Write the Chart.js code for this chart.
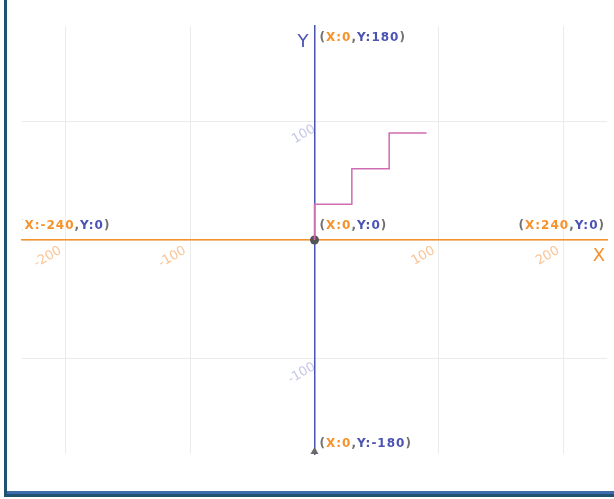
<!DOCTYPE html>
<html>
<head>
<meta charset="utf-8">
<script src="https://cdn.jsdelivr.net/npm/chart.js@4/dist/chart.umd.min.js"></script>
<style>
    html, body { margin: 0; padding: 0; background: #fff; width: 614px; height: 499px; overflow: hidden; }
    #frame {
        position: absolute; left: 4px; top: -10px; width: 700px; height: 504px;
        border-left: 3px solid #1f5273; border-bottom: 3px solid #1f5273;
    }
    #frame:after {
        content: ''; position: absolute; left: 0; right: 0; bottom: 0; height: 3px; background: #3e6cab;
    }
    #wrap { position: absolute; left: 0; top: 0; width: 614px; height: 499px; }
</style>
</head>
<body>
<div id="frame"></div>
<div id="wrap"><canvas id="stageChart"></canvas></div>
<script>
// stage axes (scratch-like coordinate grid)
var xRange = [-235, 235];
var yRange = [-180, 180];
var xTicks = [-200, -100, 0, 100, 200];
var yTicks = [-100, 0, 100];

// the staircase the sprite walked
var stepX = [0, 30, 60, 90];
var stepY = [0, 30, 60, 90];

// origin dot and the little arrow at the bottom of the y axis
var markerX = [0, 0];
var markerY = [0, -180];
var markerStyle = ['circle', 'triangle'];

// corner coordinate labels
var edgeLabelX = ['0', '-240', '240', '0', '0'];
var edgeLabelY = ['180', '0', '0', '0', '-180'];

var ORANGE = '#f7922a';
var BLUE = '#4a52b3';
var GRAY = '#707070';

function toPoints(xs, ys) {
    return xs.map(function (x, i) { return { x: x, y: ys[i] }; });
}

// draws "(X:..,Y:..)" pieces in their colours
function drawCoord(ctx, x, y, xs, ys, alignRight) {
    var parts = [['(', GRAY], ['X:' + xs, ORANGE], [',', GRAY], ['Y:' + ys, BLUE], [')', GRAY]];
    var total = 0;
    parts.forEach(function (p) { total += ctx.measureText(p[0]).width; });
    var cx = alignRight ? x - total : x;
    parts.forEach(function (p) {
        ctx.fillStyle = p[1];
        ctx.fillText(p[0], cx, y);
        cx += ctx.measureText(p[0]).width;
    });
}

var stageLabels = {
    id: 'stageLabels',
    afterDraw: function (chart) {
        var ctx = chart.ctx;
        var area = chart.chartArea;
        var sx = chart.scales.x, sy = chart.scales.y;
        var x0 = sx.getPixelForValue(0), y0 = sy.getPixelForValue(0);

        ctx.save();
        ctx.beginPath();
        ctx.rect(area.left, area.top, area.right - area.left, area.bottom - area.top);
        ctx.clip();
        ctx.font = 'bold 12px "DejaVu Sans"';
        ctx.letterSpacing = '1px';
        ctx.textBaseline = 'middle';
        ctx.textAlign = 'left';

        drawCoord(ctx, x0 + 5, sy.getPixelForValue(yRange[1]) + 12, edgeLabelX[0], edgeLabelY[0], false);
        drawCoord(ctx, area.left - 4, y0 - 14, edgeLabelX[1], edgeLabelY[1], false);
        drawCoord(ctx, area.right - 2, y0 - 14, edgeLabelX[2], edgeLabelY[2], true);
        drawCoord(ctx, x0 + 5, y0 - 14, edgeLabelX[3], edgeLabelY[3], false);
        drawCoord(ctx, x0 + 5, sy.getPixelForValue(yRange[0]) - 10, edgeLabelX[4], edgeLabelY[4], false);
        ctx.restore();

        // axis names
        ctx.save();
        ctx.font = '18px "DejaVu Sans"';
        ctx.textBaseline = 'middle';
        ctx.textAlign = 'right';
        ctx.fillStyle = BLUE;
        ctx.fillText('Y', x0 - 6, area.top + 16);
        ctx.fillStyle = ORANGE;
        ctx.fillText('X', area.right - 2, y0 + 16);
        ctx.restore();
    }
};

document.addEventListener('DOMContentLoaded', function () {
    var ctx = document.getElementById('stageChart').getContext('2d');

    new Chart(ctx, {
        type: 'scatter',
        data: {
            datasets: [{
                label: 'path',
                data: toPoints(stepX, stepY),
                showLine: true,
                stepped: 'after',
                borderColor: '#d06cb0',
                borderWidth: 1.5,
                pointRadius: 0,
                clip: 0
            }, {
                label: 'markers',
                data: toPoints(markerX, markerY),
                pointStyle: markerStyle,
                pointRadius: [4.5, 7],
                backgroundColor: ['#555555', '#6a6a6a'],
                borderWidth: 0,
                clip: 0
            }]
        },
        plugins: [stageLabels],
        options: {
            responsive: true,
            maintainAspectRatio: false,
            animation: false,
            layout: { padding: { left: 22, top: 26, right: 4, bottom: 45 } },
            plugins: {
                legend: { display: false },
                tooltip: { enabled: false }
            },
            scales: {
                x: {
                    type: 'linear',
                    min: xRange[0],
                    max: xRange[1],
                    position: { y: 0 },
                    afterBuildTicks: function (scale) {
                        scale.ticks = xTicks.map(function (v) { return { value: v }; });
                    },
                    grid: { color: '#ebebeb', drawTicks: false },
                    border: { color: ORANGE, width: 1.5 },
                    ticks: {
                        color: '#f9c596',
                        font: { family: 'DejaVu Sans', size: 13 },
                        minRotation: 30,
                        maxRotation: 30,
                        autoSkip: false,
                        padding: 3,
                        labelOffset: -5,
                        callback: function (v) { return v === 0 ? '' : v; }
                    }
                },
                y: {
                    type: 'linear',
                    min: yRange[0],
                    max: yRange[1],
                    position: { x: 0 },
                    afterBuildTicks: function (scale) {
                        scale.ticks = yTicks.map(function (v) { return { value: v }; });
                    },
                    grid: { color: '#ebebeb', drawTicks: false },
                    border: { color: BLUE, width: 1.5 },
                    ticks: {
                        color: '#c5c8e7',
                        font: { family: 'DejaVu Sans', size: 13 },
                        minRotation: 30,
                        maxRotation: 30,
                        autoSkip: false,
                        labelOffset: 7,
                        callback: function (v) { return v === 0 ? '' : v; }
                    }
                }
            }
        }
    });
});
</script>
</body>
</html>
